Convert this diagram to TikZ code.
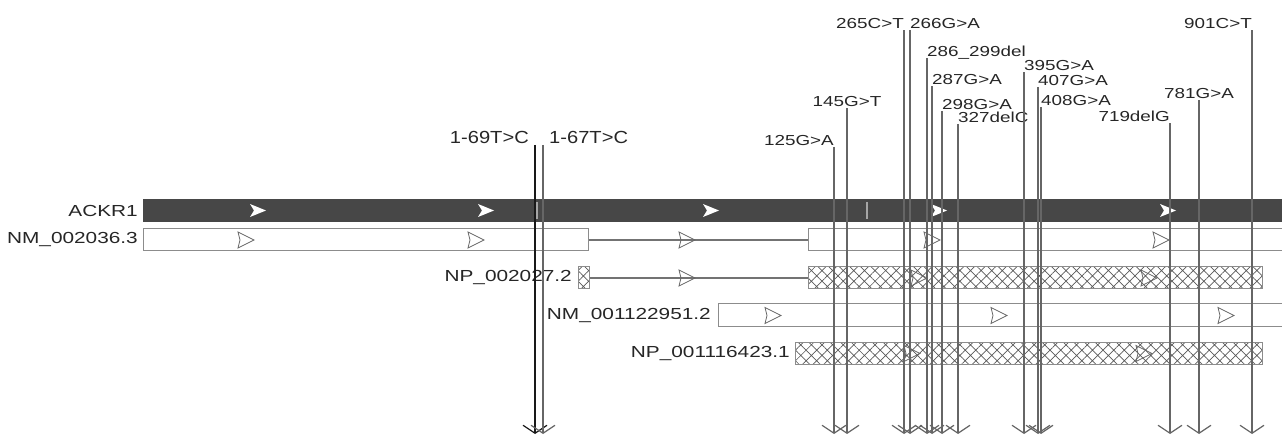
\documentclass[tikz,border=0pt]{standalone}
\usepackage{fontspec}
\setmainfont{Liberation Sans}
\newfontfamily\lblfont[FakeStretch=1.3]{Liberation Sans}
\newfontfamily\bigfont[FakeStretch=1.15]{Liberation Sans}
\usepackage{tikz}
\usetikzlibrary{positioning, arrows.meta, patterns.meta}

\begin{document}
\begin{tikzpicture}[
      x=1pt, y=-1pt,
      trk/.style={font=\lblfont\fontsize{16}{18}\selectfont, text=black!85, inner sep=1pt},
      gene/.style={fill=black!72, minimum height=23pt, inner sep=0pt, anchor=west},
      exon/.style={draw=black!45, line width=1pt, fill=white, minimum height=22pt, inner sep=0pt, anchor=west},
      cds/.style={exon, fill=none, pattern={Hatch[angle=45, distance=7.5pt, line width=0.7pt]}, pattern color=black!65},
      intron/.style={draw=black!55, line width=1.2pt},
      snp/.style={font=\lblfont\fontsize{14.5}{16}\selectfont, text=black!85, inner xsep=0pt, inner ysep=1.5pt, text depth=0pt},
      bigsnp/.style={snp, font=\bigfont\fontsize{17.5}{19}\selectfont, inner xsep=6pt},
      snpline/.style={draw=black!60, line width=1.2pt, -{Straight Barb[length=8pt, width=24pt]}},
      fwd/.pic={\fill[white] (-8,-6.5) -- (8,0) -- (-8,6.5) -- (-4,0) -- cycle;},
      strand/.pic={\draw[black!60, line width=0.8pt] (-8,-8) -- (8,0) -- (-8,8) -- (-6,0) -- cycle;}
    ]
    \useasboundingbox (0,0) rectangle (1282,435);

    % Gene track
    \node[gene, minimum width=1139pt] (ackr1) at (143,210.5) {};
    \draw[black!35, line width=1.2pt] (537,202) -- (537,219);
    \draw[black!35, line width=1.2pt] (867,202) -- (867,219);
    \path (258,210.5) pic{fwd} (486,210.5) pic{fwd} (711,210.5) pic{fwd}
          (939,210.5) pic{fwd} (1168,210.5) pic{fwd};
    \node[trk, left=4pt of ackr1] (lackr1) {ACKR1};

    % Transcript NM_002036.3
    \node[exon, minimum width=445pt] (nm1a) at (143,240) {};
    \node[exon, minimum width=475pt] (nm1b) at (808,240) {};
    \draw[intron] (nm1a.east) -- (nm1b.west);
    \path (246,240) pic{strand} (476,240) pic{strand} (687,240) pic{strand}
          (932,240) pic{strand} (1161,240) pic{strand};
    \node[trk, left=4pt of nm1a] (lnm1) {NM\_002036.3};

    % Protein NP_002027.2
    \node[cds, minimum width=11pt] (np1a) at (578,278) {};
    \node[cds, minimum width=454pt] (np1b) at (808,278) {};
    \draw[intron] (np1a.east) -- (np1b.west);
    \path (687,278) pic{strand} (919,278) pic{strand} (1149,278) pic{strand};
    \node[trk, left=5pt of np1a] (lnp1) {NP\_002027.2};

    % Transcript NM_001122951.2
    \node[exon, minimum width=565pt, minimum height=23pt] (nm2) at (718,315.5) {};
    \path (773,315.5) pic{strand} (999,315.5) pic{strand} (1226,315.5) pic{strand};
    \node[trk, left=6pt of nm2] (lnm2) {NM\_001122951.2};

    % Protein NP_001116423.1
    \node[cds, minimum width=467pt] (np2) at (795,353.5) {};
    \path (912,353.5) pic{strand} (1144,353.5) pic{strand};
    \node[trk, left=4pt of np2] (lnp2) {NP\_001116423.1};

    % Variant labels
    \coordinate (base) at (0,434);
    \node[bigsnp, anchor=south east] (v169) at (535,145) {1-69T>C};
    \node[bigsnp, anchor=south west] (v167) at (543,145) {1-67T>C};
    \node[snp, anchor=south east] (v125) at (834,147) {125G>A};
    \node[snp, anchor=south] (v145) at (847,108.5) {145G>T};
    \node[snp, anchor=south east] (v265) at (904,30.5) {265C>T};
    \node[snp, anchor=south west] (v266) at (910,30.5) {266G>A};
    \node[snp, anchor=south west] (v286) at (927,58.5) {286\_299del};
    \node[snp, anchor=south west] (v287) at (932,86.5) {287G>A};
    \node[snp, anchor=south west] (v298) at (942,111) {298G>A};
    \node[snp, anchor=south west] (v327) at (958,124) {327delC};
    \node[snp, anchor=south west] (v395) at (1024,72.5) {395G>A};
    \node[snp, anchor=south west] (v407) at (1038,87) {407G>A};
    \node[snp, anchor=south west] (v408) at (1041,107.5) {408G>A};
    \node[snp, anchor=south east] (v719) at (1170,123.5) {719delG};
    \node[snp, anchor=south] (v781) at (1199,100.5) {781G>A};
    \node[snp, anchor=south east] (v901) at (1252,30.5) {901C>T};

    % Variant positions
    \draw[snpline, draw=black!90] (v169.south east) -- (v169.south east |- base);
    \draw[snpline] (v167.south west) -- (v167.south west |- base);
    \draw[snpline] (v125.south east) -- (v125.south east |- base);
    \draw[snpline] (v145.south) -- (v145.south |- base);
    \draw[snpline] (v265.south east) -- (v265.south east |- base);
    \draw[snpline] (v266.south west) -- (v266.south west |- base);
    \draw[snpline] (v286.south west) -- (v286.south west |- base);
    \draw[snpline] (v287.south west) -- (v287.south west |- base);
    \draw[snpline] (v298.south west) -- (v298.south west |- base);
    \draw[snpline] (v327.south west) -- (v327.south west |- base);
    \draw[snpline] (v395.south west) -- (v395.south west |- base);
    \draw[snpline] (v407.south west) -- (v407.south west |- base);
    \draw[snpline] (v408.south west) -- (v408.south west |- base);
    \draw[snpline] (v719.south east) -- (v719.south east |- base);
    \draw[snpline] (v781.south) -- (v781.south |- base);
    \draw[snpline] (v901.south east) -- (v901.south east |- base);
  \end{tikzpicture}
\end{document}
